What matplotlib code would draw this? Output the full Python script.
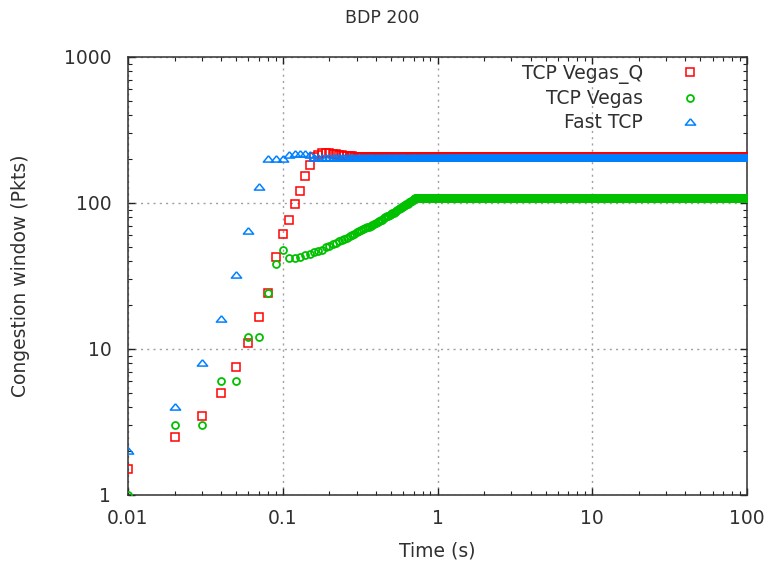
import numpy as np
import matplotlib
matplotlib.use("Agg")
import matplotlib.pyplot as plt
from matplotlib.ticker import FixedLocator, FixedFormatter, LogLocator, NullFormatter

# ---- data ----
sample_step = 0.01          # s, sampling interval of the traces
n_samples = 10000           # 0.01 s .. 100 s

vegas_q_head = [1.5, 2.5, 3.5, 5, 7.5, 11, 16.5, 24, 43, 61, 76, 98, 121, 153, 181,
                205, 214, 219, 220, 220, 218, 216, 214, 212, 211, 210, 209, 209, 208, 208]
vegas_q_level = 208

vegas_head = [1, 3, 3, 6, 6, 12, 12, 24, 38, 48,
              42, 42, 43, 44, 45, 46, 47, 48, 50, 51, 52, 53, 55, 56, 57, 58, 59, 60,
              61, 63, 64, 65, 66, 67, 68, 69, 70, 71, 72, 73, 74, 75, 76, 77, 79, 80,
              81, 82, 83, 84, 85, 86, 87, 88, 90, 91, 92, 93, 94, 95, 96, 97, 98, 99,
              101, 102, 103, 104, 105, 106, 107, 108, 109]
vegas_level = 109

fast_head = [2, 4, 8, 16, 32, 64, 128, 200, 200, 200, 214, 216, 216, 215, 213]
fast_level = 203

series_names = ["TCP Vegas_Q", "TCP Vegas", "Fast TCP"]

x_ticks = [0.01, 0.1, 1, 10, 100]
x_ticklabels = ["0.01", "0.1", "1", "10", "100"]
y_ticks = [1, 10, 100, 1000]
y_ticklabels = ["1", "10", "100", "1000"]

title = "BDP 200"
xlabel = "Time (s)"
ylabel = "Congestion window (Pkts)"

# ---- build series ----
t = np.arange(1, n_samples + 1) * sample_step

def full_series(head, level):
    head = np.asarray(head, dtype=float)
    return np.concatenate([head, np.full(n_samples - len(head), float(level))])

vq = full_series(vegas_q_head, vegas_q_level)
vg = full_series(vegas_head, vegas_level)
ft = full_series(fast_head, fast_level)

# ---- figure ----
W, H = 764, 563
fig = plt.figure(figsize=(W / 100, H / 100), dpi=100)
L, R, T, B = 128, 747, 57, 495
ax = fig.add_axes([L / W, 1 - B / H, (R - L) / W, (B - T) / H])

txt = "#303030"
fs = 13.5

tri = [(0, 0.72), (-1, -0.5), (1, -0.5), (0, 0.72)]

ax.plot(t, vq, ls="none", marker="s", ms=5.8, mfc="none", mec="#ff0000", mew=1.1,
        label=series_names[0], zorder=3)
ax.plot(t, vg, ls="none", marker="o", ms=5.0, mfc="none", mec="#00c000", mew=1.3,
        label=series_names[1], zorder=4)
ax.plot(t, ft, ls="none", marker=tri, ms=7.4, mfc="none", mec="#0080ff", mew=1.1,
        label=series_names[2], zorder=5)

ax.set_xscale("log")
ax.set_yscale("log")
ax.set_xlim(0.01, 100)
ax.set_ylim(1, 1000)

ax.xaxis.set_major_locator(FixedLocator(x_ticks))
ax.xaxis.set_major_formatter(FixedFormatter(x_ticklabels))
ax.yaxis.set_major_locator(FixedLocator(y_ticks))
ax.yaxis.set_major_formatter(FixedFormatter(y_ticklabels))
ax.xaxis.set_minor_locator(LogLocator(base=10, subs=np.arange(2, 10), numticks=20))
ax.yaxis.set_minor_locator(LogLocator(base=10, subs=np.arange(2, 10), numticks=20))
ax.xaxis.set_minor_formatter(NullFormatter())
ax.yaxis.set_minor_formatter(NullFormatter())

ax.tick_params(which="both", direction="in", top=True, right=True, color="#202020",
               labelsize=fs, labelcolor=txt)
ax.tick_params(which="major", length=5, width=1)
ax.tick_params(which="minor", length=2.8, width=0.8)
ax.tick_params(axis="x", pad=10)
ax.tick_params(axis="y", pad=12)

for s in ax.spines.values():
    s.set_color("#303030")
    s.set_linewidth(1.1)

ax.grid(True, which="major", color="#a0a0a0", lw=1.0, ls=(0, (1.5, 3.0)))
ax.set_axisbelow(True)

leg = ax.legend(loc="upper right", bbox_to_anchor=((699.5 - L) / (R - L), 1 - (64 - T) / (B - T)),
                frameon=False, markerfirst=False, fontsize=fs, handlelength=1.0,
                handletextpad=2.0, borderpad=0, borderaxespad=0, labelspacing=0.28,
                markerscale=1.0)
for tx in leg.get_texts():
    tx.set_color(txt)

fig.text(0.5, 1 - 18 / H, title, ha="center", va="center", fontsize=12.5, color=txt)
fig.text((L + R) / 2 / W, 1 - 551 / H, xlabel, ha="center", va="center", fontsize=fs, color=txt)
fig.text(21 / W, 1 - 276 / H, ylabel, ha="center", va="center", rotation=90, fontsize=fs, color=txt)

fig.savefig("out.png", dpi=100)
